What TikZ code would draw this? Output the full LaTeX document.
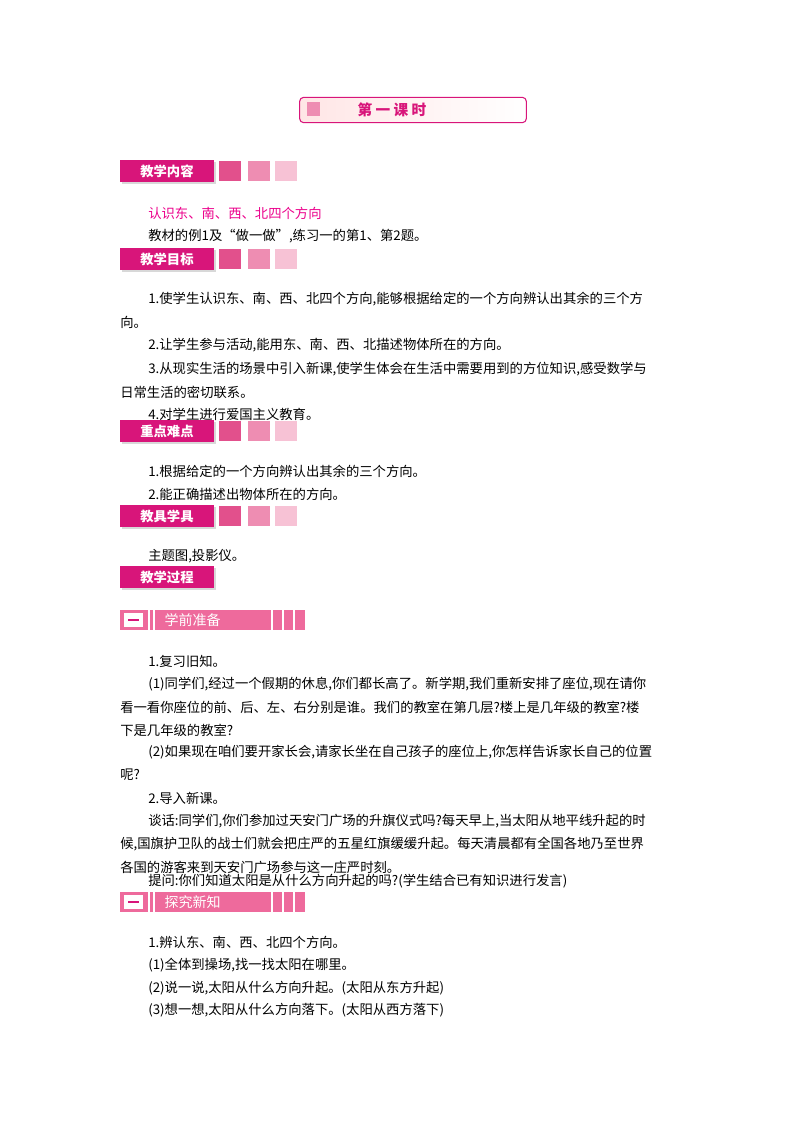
\documentclass[tikz,border=0pt]{standalone}
\usepackage{fontspec}
\usetikzlibrary{shadows}
\setmainfont{Noto Sans CJK SC}
\definecolor{mag}{HTML}{D8157A}
\definecolor{sqa}{HTML}{E2508C}
\definecolor{sqb}{HTML}{EE8DB2}
\definecolor{sqc}{HTML}{F7C2D5}
\definecolor{bar}{HTML}{EE6A9C}
\begin{document}
\begin{tikzpicture}[x=0.75pt,y=-0.75pt,
  t/.style={anchor=west,inner sep=0pt,font=\fontsize{10pt}{12pt}\selectfont},
  hd/.style={anchor=west,fill=mag,text=white,minimum width=70pt,minimum height=16pt,inner sep=1pt,font=\fontsize{10pt}{12pt}\selectfont\bfseries,drop shadow={fill=gray!60,shadow xshift=1.5pt,shadow yshift=-1.5pt}},
  sq/.style={minimum width=17pt,minimum height=15pt,inner sep=0pt}]
\useasboundingbox (0,0) rectangle (800,1132);
\fill[white] (0,0) rectangle (800,1132);
% title
\node[draw=mag,line width=0.8pt,rounded corners=3pt,minimum width=170pt,minimum height=19pt,left color=pink!40,right color=white,inner sep=0pt] (title) at (413,110) {};
\fill[sqb] (307,102) rectangle (320,116);
\node[text=mag,font=\fontsize{11pt}{13pt}\selectfont\bfseries] (tt) at (392,110) {第\ 一\ 课\ 时};
% headers
\foreach \y/\txt/\n in {171/教学内容/a,259/教学目标/b,431/重点难点/c,516/教具学具/d}{
  \node[hd] (h\n) at (120,\y) {\txt};
  \node[sq,fill=sqa] (s1\n) at (230,\y) {};
  \node[sq,fill=sqb] (s2\n) at (259,\y) {};
  \node[sq,fill=sqc] (s3\n) at (286,\y) {};
}
\node[hd] (he) at (120,577) {教学过程};
% bars
\foreach \y/\txt/\n in {620/学前准备/a,902/探究新知/b}{
  \fill[bar] (120,\y-10) rectangle (305,\y+10);
  \fill[white] (124,\y-7) rectangle (143,\y+7);
  \draw[mag,line width=1.2pt] (128,\y) -- (139,\y);
  \foreach \xx in {149,154,272,283,294}{\draw[white,line width=0.8pt] (\xx,\y-10) -- (\xx,\y+10);}
  \node[anchor=west,text=white,font=\fontsize{10.5pt}{12pt}\selectfont] (b\n) at (160,\y) {\txt};
}
\node[t,text=magenta] (l1) at (148,213) {认识东、南、西、北四个方向};
\node[t] (l2) at (148,236) {教材的例1及“做一做”,练习一的第1、第2题。};
\node[t] (l3) at (148,299) {1.使学生认识东、南、西、北四个方向,能够根据给定的一个方向辨认出其余的三个方};
\node[t] (l4) at (120,322) {向。};
\node[t] (l5) at (148,345) {2.让学生参与活动,能用东、南、西、北描述物体所在的方向。};
\node[t] (l6) at (148,369) {3.从现实生活的场景中引入新课,使学生体会在生活中需要用到的方位知识,感受数学与};
\node[t] (l7) at (120,392) {日常生活的密切联系。};
\node[t] (l8) at (148,414) {4.对学生进行爱国主义教育。};
\node[t] (l9) at (148,471) {1.根据给定的一个方向辨认出其余的三个方向。};
\node[t] (l10) at (148,494) {2.能正确描述出物体所在的方向。};
\node[t] (l11) at (148,556) {主题图,投影仪。};
\node[t] (m1) at (148,661) {1.复习旧知。};
\node[t] (m2) at (148,684) {(1)同学们,经过一个假期的休息,你们都长高了。新学期,我们重新安排了座位,现在请你};
\node[t] (m3) at (120,707) {看一看你座位的前、后、左、右分别是谁。我们的教室在第几层?楼上是几年级的教室?楼};
\node[t] (m4) at (120,730) {下是几年级的教室?};
\node[t] (m5) at (148,752) {(2)如果现在咱们要开家长会,请家长坐在自己孩子的座位上,你怎样告诉家长自己的位置};
\node[t] (m6) at (120,775) {呢?};
\node[t] (m7) at (148,798) {2.导入新课。};
\node[t] (m8) at (148,821) {谈话:同学们,你们参加过天安门广场的升旗仪式吗?每天早上,当太阳从地平线升起的时};
\node[t] (m9) at (120,844) {候,国旗护卫队的战士们就会把庄严的五星红旗缓缓升起。每天清晨都有全国各地乃至世界};
\node[t] (m10) at (120,867) {各国的游客来到天安门广场参与这一庄严时刻。};
\node[t] (m11) at (148,881) {提问:你们知道太阳是从什么方向升起的吗?(学生结合已有知识进行发言)};
\node[t] (n1) at (148,942) {1.辨认东、南、西、北四个方向。};
\node[t] (n2) at (148,965) {(1)全体到操场,找一找太阳在哪里。};
\node[t] (n3) at (148,988) {(2)说一说,太阳从什么方向升起。(太阳从东方升起)};
\node[t] (n4) at (148,1010) {(3)想一想,太阳从什么方向落下。(太阳从西方落下)};
\end{tikzpicture}
\end{document}
